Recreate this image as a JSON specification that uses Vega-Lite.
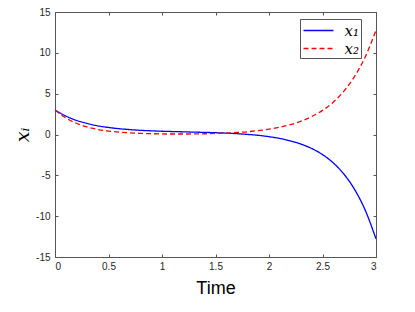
{
  "$schema": "https://vega.github.io/schema/vega-lite/v6.json",
  "autosize": "none",
  "width": 321,
  "height": 245,
  "padding": {"left": 55, "top": 12, "right": 39, "bottom": 55},
  "background": "white",
  "config": {
    "view": {"stroke": null},
    "axis": {"grid": false, "domainColor": "#555555", "tickColor": "#555555", "labelColor": "#262626", "titleColor": "#000000", "labelFont": "Liberation Sans", "titleFont": "Liberation Sans", "labelFontSize": 10, "tickSize": -3, "domainWidth": 1, "tickWidth": 1}
  },
  "data": {"values": [
    {"t": 0.0, "series": "x1", "value": 3.00},
    {"t": 0.1, "series": "x1", "value": 2.27},
    {"t": 0.2, "series": "x1", "value": 1.73},
    {"t": 0.3, "series": "x1", "value": 1.35},
    {"t": 0.4, "series": "x1", "value": 1.06},
    {"t": 0.5, "series": "x1", "value": 0.86},
    {"t": 0.6, "series": "x1", "value": 0.71},
    {"t": 0.7, "series": "x1", "value": 0.60},
    {"t": 0.8, "series": "x1", "value": 0.51},
    {"t": 0.9, "series": "x1", "value": 0.45},
    {"t": 1.0, "series": "x1", "value": 0.40},
    {"t": 1.1, "series": "x1", "value": 0.36},
    {"t": 1.2, "series": "x1", "value": 0.33},
    {"t": 1.3, "series": "x1", "value": 0.29},
    {"t": 1.4, "series": "x1", "value": 0.26},
    {"t": 1.5, "series": "x1", "value": 0.22},
    {"t": 1.6, "series": "x1", "value": 0.17},
    {"t": 1.7, "series": "x1", "value": 0.10},
    {"t": 1.8, "series": "x1", "value": 0.01},
    {"t": 1.9, "series": "x1", "value": -0.10},
    {"t": 2.0, "series": "x1", "value": -0.27},
    {"t": 2.1, "series": "x1", "value": -0.48},
    {"t": 2.2, "series": "x1", "value": -0.78},
    {"t": 2.3, "series": "x1", "value": -1.18},
    {"t": 2.4, "series": "x1", "value": -1.72},
    {"t": 2.5, "series": "x1", "value": -2.46},
    {"t": 2.6, "series": "x1", "value": -3.47},
    {"t": 2.7, "series": "x1", "value": -4.85},
    {"t": 2.8, "series": "x1", "value": -6.73},
    {"t": 2.9, "series": "x1", "value": -9.29},
    {"t": 3.0, "series": "x1", "value": -12.78},
    {"t": 0.0, "series": "x2", "value": 3.00},
    {"t": 0.1, "series": "x2", "value": 2.04},
    {"t": 0.2, "series": "x2", "value": 1.38},
    {"t": 0.3, "series": "x2", "value": 0.93},
    {"t": 0.4, "series": "x2", "value": 0.62},
    {"t": 0.5, "series": "x2", "value": 0.42},
    {"t": 0.6, "series": "x2", "value": 0.29},
    {"t": 0.7, "series": "x2", "value": 0.20},
    {"t": 0.8, "series": "x2", "value": 0.14},
    {"t": 0.9, "series": "x2", "value": 0.10},
    {"t": 1.0, "series": "x2", "value": 0.07},
    {"t": 1.1, "series": "x2", "value": 0.06},
    {"t": 1.2, "series": "x2", "value": 0.06},
    {"t": 1.3, "series": "x2", "value": 0.07},
    {"t": 1.4, "series": "x2", "value": 0.09},
    {"t": 1.5, "series": "x2", "value": 0.13},
    {"t": 1.6, "series": "x2", "value": 0.18},
    {"t": 1.7, "series": "x2", "value": 0.25},
    {"t": 1.8, "series": "x2", "value": 0.34},
    {"t": 1.9, "series": "x2", "value": 0.48},
    {"t": 2.0, "series": "x2", "value": 0.65},
    {"t": 2.1, "series": "x2", "value": 0.89},
    {"t": 2.2, "series": "x2", "value": 1.21},
    {"t": 2.3, "series": "x2", "value": 1.63},
    {"t": 2.4, "series": "x2", "value": 2.20},
    {"t": 2.5, "series": "x2", "value": 2.95},
    {"t": 2.6, "series": "x2", "value": 3.96},
    {"t": 2.7, "series": "x2", "value": 5.31},
    {"t": 2.8, "series": "x2", "value": 7.12},
    {"t": 2.9, "series": "x2", "value": 9.53},
    {"t": 3.0, "series": "x2", "value": 12.75}
  ]},
  "layer": [
    {
      "mark": {"type": "line", "interpolate": "monotone", "strokeWidth": 1.3, "clip": true},
      "encoding": {
        "x": {"field": "t", "type": "quantitative", "scale": {"domain": [0, 3], "nice": false},
              "axis": {"orient": "bottom", "values": [0, 0.5, 1, 1.5, 2, 2.5, 3], "labelExpr": "datum.value + ''", "labelPadding": 7, "title": "Time", "titleFontSize": 18, "titleFontWeight": "normal", "titlePadding": 8}},
        "y": {"field": "value", "type": "quantitative", "scale": {"domain": [-15, 15], "nice": false},
              "axis": {"orient": "left", "values": [-15, -10, -5, 0, 5, 10, 15], "labelExpr": "datum.value + ''", "labelPadding": 8, "title": "xᵢ", "titleFont": "DejaVu Serif", "titleFontStyle": "italic", "titleFontWeight": "normal", "titleFontSize": 19, "titlePadding": 3}},
        "color": {"field": "series", "type": "nominal", "scale": {"domain": ["x1", "x2"], "range": ["#0000FF", "#FF0000"]},
                  "legend": {"title": null, "orient": "none", "legendX": 245, "legendY": 7, "padding": 1.5, "rowPadding": 0, "strokeColor": "#555555", "fillColor": "white", "symbolType": "M-1.667,0H1.667", "symbolSize": 324, "symbolStrokeWidth": 1.3, "symbolOffset": 7, "labelOffset": 16, "labelFont": "DejaVu Serif", "labelFontStyle": "italic", "labelFontSize": 15, "labelColor": "#000000", "labelExpr": "datum.value == 'x1' ? 'x₁' : 'x₂'"}},
        "strokeDash": {"field": "series", "type": "nominal", "scale": {"domain": ["x1", "x2"], "range": [[1, 0], [5, 3]]}, "legend": null}
      }
    },
    {
      "mark": {"type": "line", "opacity": 0},
      "encoding": {
        "x": {"field": "t", "type": "quantitative", "axis": {"orient": "top", "values": [0, 0.5, 1, 1.5, 2, 2.5, 3], "labels": false, "title": null}},
        "y": {"field": "value", "type": "quantitative", "axis": {"orient": "right", "values": [-15, -10, -5, 0, 5, 10, 15], "labels": false, "title": null}},
        "detail": {"field": "series"}
      }
    }
  ],
  "resolve": {"axis": {"x": "independent", "y": "independent"}}
}
